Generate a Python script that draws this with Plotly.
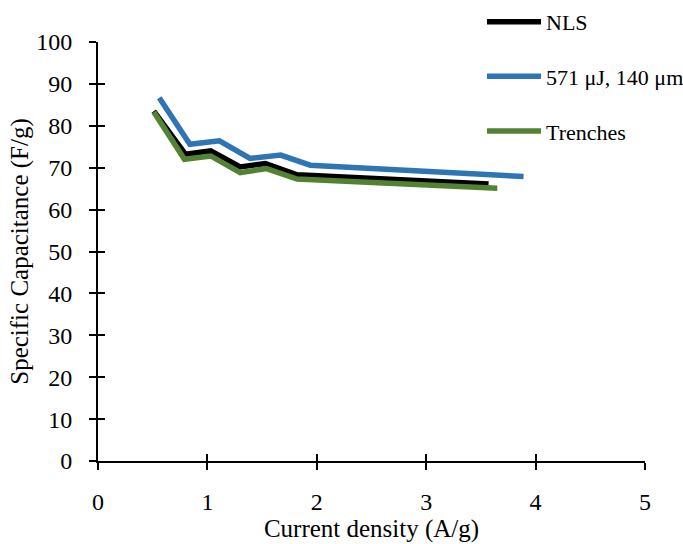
import plotly.graph_objects as go

nls_x = [0.51, 0.80, 1.03, 1.30, 1.53, 1.82, 3.57]
nls_y = [83.5, 73.2, 74.0, 70.2, 71.0, 68.3, 66.1]

laser_x = [0.56, 0.84, 1.11, 1.39, 1.67, 1.94, 3.89]
laser_y = [86.7, 75.6, 76.4, 72.2, 73.0, 70.6, 67.9]

trench_x = [0.51, 0.79, 1.03, 1.30, 1.54, 1.82, 3.65]
trench_y = [83.3, 72.0, 72.8, 68.8, 69.8, 67.3, 65.1]

names = ["NLS", "571 μJ, 140 μm", "Trenches"]
colors = ["#000000", "#2E75B6", "#548235"]

FONT = "Liberation Serif, Times New Roman, serif"

fig = go.Figure()
for i, (xs, ys) in enumerate([(nls_x, nls_y), (laser_x, laser_y), (trench_x, trench_y)]):
    fig.add_trace(go.Scatter(
        x=xs, y=ys, mode="lines", name=names[i],
        line=dict(color=colors[i], width=5.5),
        legendgroup=f"g{i}",
    ))

# empty trace to create overlay axes for inside ticks (cross ticks)
fig.add_trace(go.Scatter(x=[None], y=[None], xaxis="x2", yaxis="y2",
                         showlegend=False, hoverinfo="skip"))

axis_common = dict(
    showgrid=False, zeroline=False, showline=True, linecolor="black",
    linewidth=2, ticks="outside", tickcolor="black", tickwidth=2, ticklen=7,
    tickfont=dict(family=FONT, size=24, color="black"),
)

fig.update_layout(
    width=683, height=544,
    margin=dict(l=98, r=38, t=42, b=83, autoexpand=False),
    plot_bgcolor="white", paper_bgcolor="white",
    font=dict(family=FONT, color="black"),
    xaxis=dict(range=[0, 5], dtick=1, tick0=0, ticklabelstandoff=11,
               title=dict(text="Current density (A/g)", font=dict(family=FONT, size=25), standoff=4),
               **axis_common),
    yaxis=dict(range=[0, 100], dtick=10, tick0=0, ticklabelstandoff=12,
               title=dict(text="Specific Capacitance (F/g)", font=dict(family=FONT, size=25), standoff=0),
               **axis_common),
    xaxis2=dict(overlaying="x", range=[0, 5], dtick=1, tick0=0, showgrid=False, zeroline=False,
                showline=False, ticks="inside", ticklen=7, tickwidth=2, tickcolor="black",
                showticklabels=False, anchor="y2", side="bottom"),
    yaxis2=dict(overlaying="y", range=[0, 100], dtick=10, tick0=0, showgrid=False, zeroline=False,
                showline=False, ticks="inside", ticklen=7, tickwidth=2, tickcolor="black",
                showticklabels=False, anchor="x2", side="left"),
    legend=dict(x=(482 - 98) / 547, y=1.098, xanchor="left", yanchor="top",
                font=dict(family=FONT, size=22, color="black"),
                tracegroupgap=23, bgcolor="rgba(0,0,0,0)", itemwidth=54),
    showlegend=True,
)

fig.write_html("out.html")
